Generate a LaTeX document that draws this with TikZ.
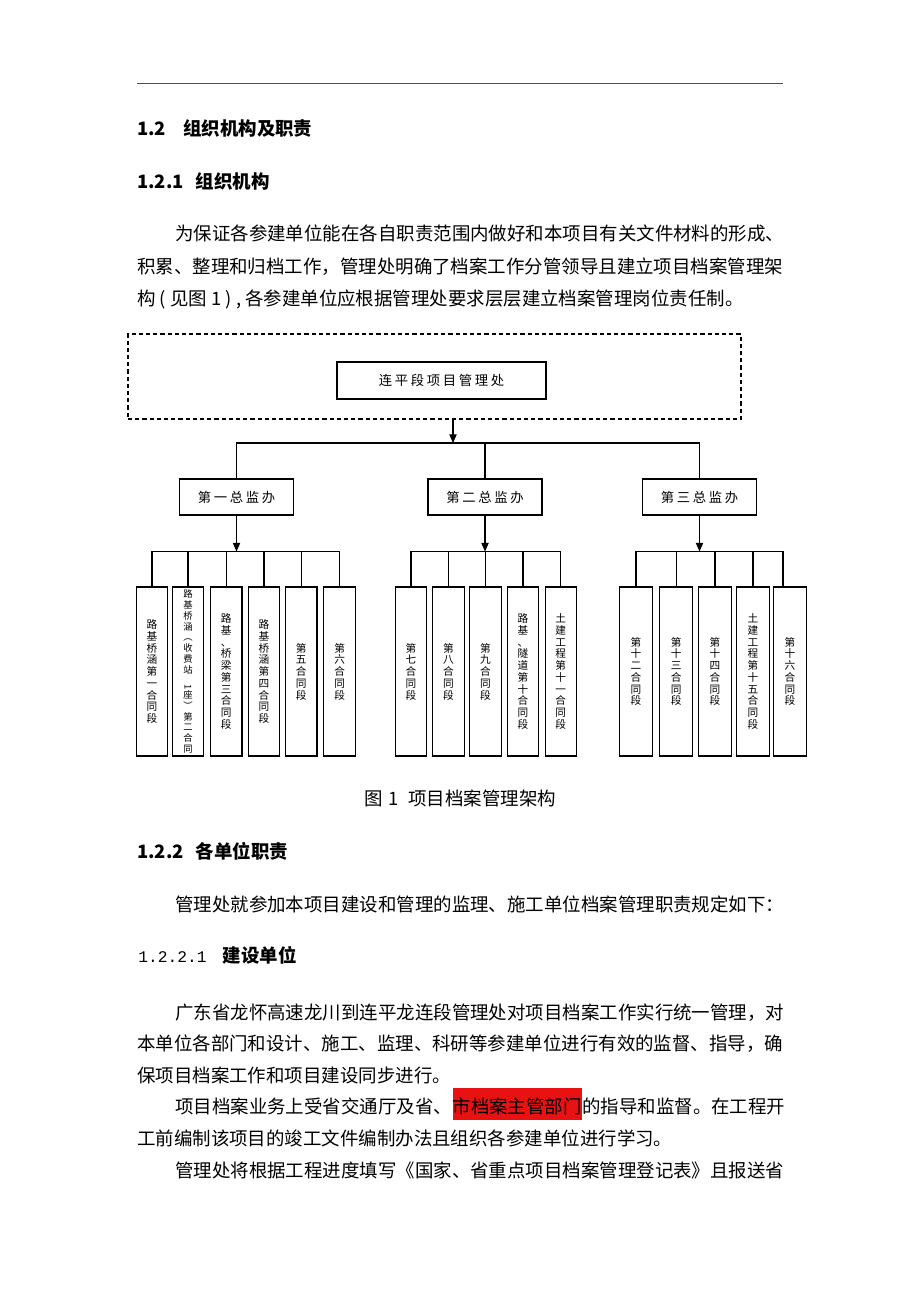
\documentclass[tikz,border=0pt]{standalone}
\usepackage{fontspec}
\usepackage{graphicx}
\newfontfamily\cjk{Noto Sans CJK SC}
\newfontfamily\boxfont[LetterSpace=20]{Noto Sans CJK SC}
\newfontfamily\numfont{Liberation Mono}
\usetikzlibrary{positioning, fit, arrows.meta}

\begin{document}
\begin{tikzpicture}[x=0.75pt, y=-0.75pt,
  txt/.style={font=\cjk\fontsize{13.84pt}{16pt}\selectfont, inner sep=0pt, text height=12.2pt, text depth=1.7pt, anchor=west},
  head/.style={txt, font=\cjk\bfseries\fontsize{13.84pt}{16pt}\selectfont},
  hl/.style={txt, fill={rgb,255:red,232;green,18;blue,18}, text height=18.75pt, text depth=5.25pt},
  frame/.style={draw, dash pattern=on 3.2pt off 2.2pt, line width=0.8pt, inner sep=0pt},
  mgmt/.style={draw, line width=0.8pt, inner sep=0pt, minimum width=85.5pt, minimum height=27pt, font=\boxfont\fontsize{10pt}{12pt}\selectfont},
  leaf/.style={draw, line width=0.8pt, inner sep=0pt, minimum width=23.5pt, minimum height=126.75pt, align=center, font=\cjk\fontsize{8pt}{8.8pt}\selectfont},
  wire/.style={line width=0.8pt},
  arr/.style={line width=0.8pt, -{Triangle[length=6.5pt, width=5.5pt]}}]

\fill[white] (0,0) rectangle (920,1302);
\useasboundingbox (0,0) rectangle (920,1302);

% page text above the chart
\draw[line width=1.1pt, black!70] (137,83.5) -- (783,83.5);
\node[head] (h1) at (137,129) {1.2\hspace{12.75pt}组织机构及职责};
\node[head] (h2) at (137,181) {1.2.1\hspace{9pt}组织机构};
\node[txt] (p1a) at (175,233) {为保证各参建单位能在各自职责范围内做好和本项目有关文件材料的形成、};
\node[txt] (p1b) at (137,266) {积累、整理和归档工作，管理处明确了档案工作分管领导且建立项目档案管理架};
\node[txt] (p1c) at (137,298) {构 ( 见图 1 ) , 各参建单位应根据管理处要求层层建立档案管理岗位责任制。};

% chart
\node[frame, fit={(128,334) (741,419)}] (frame) {};
\node[mgmt, minimum width=156.75pt, minimum height=27.75pt] (office) at (441.5,380.5) {连平段项目管理处};
\coordinate (hub) at (453,443);

\node[mgmt] (g1) at (236.5,497) {第一总监办};
\node[mgmt] (g2) at (485,497) {第二总监办};
\node[mgmt] (g3) at (699.5,497) {第三总监办};

\node[leaf] (l1) at (152,671.5) {路\\基\\桥\\涵\\第\\一\\合\\同\\段};
\node[leaf, font=\cjk\fontsize{7pt}{8.1pt}\selectfont] (l2) at (188,671.5) {路\\基\\桥\\涵\\︵\\收\\费\\站\\\rotatebox{-90}{1}\\座\\︶\\第\\二\\合\\同};
\node[leaf] (l3) at (226.3,671.5) {路\\基\\、\\桥\\梁\\第\\三\\合\\同\\段};
\node[leaf] (l4) at (264,671.5) {路\\基\\桥\\涵\\第\\四\\合\\同\\段};
\node[leaf] (l5) at (301.3,671.5) {第\\五\\合\\同\\段};
\node[leaf] (l6) at (339.6,671.5) {第\\六\\合\\同\\段};

\node[leaf] (l7) at (411,671.5) {第\\七\\合\\同\\段};
\node[leaf] (l8) at (448.5,671.5) {第\\八\\合\\同\\段};
\node[leaf] (l9) at (485.5,671.5) {第\\九\\合\\同\\段};
\node[leaf] (l10) at (523,671.5) {路\\基\\、\\隧\\道\\第\\十\\合\\同\\段};
\node[leaf] (l11) at (560.7,671.5) {土\\建\\工\\程\\第\\十\\一\\合\\同\\段};

\node[leaf, minimum width=24.75pt] (l12) at (636,671.5) {第\\十\\二\\合\\同\\段};
\node[leaf, minimum width=24.75pt] (l13) at (676.3,671.5) {第\\十\\三\\合\\同\\段};
\node[leaf, minimum width=24.75pt] (l14) at (715,671.5) {第\\十\\四\\合\\同\\段};
\node[leaf, minimum width=24.75pt] (l15) at (753,671.5) {土\\建\\工\\程\\第\\十\\五\\合\\同\\段};
\node[leaf, minimum width=24.75pt] (l16) at (790,671.5) {第\\十\\六\\合\\同\\段};

\coordinate (bus1) at (236.5,551.5);
\coordinate (bus2) at (485,551.5);
\coordinate (bus3) at (699.5,551.5);
\coordinate (l16in) at ([xshift=-5.25pt]l16.north);

\draw[arr] (frame.south -| hub) -- (hub);
\draw[wire] (g1.north) |- (g3.north |- hub) -- (g3.north);
\draw[wire] (g2.north) -- (g2.north |- hub);

\draw[arr] (g1.south) -- (bus1);
\draw[wire] (l1.north) |- (l6.north |- bus1) -- (l6.north);
\draw[wire] (l2.north) -- (l2.north |- bus1);
\draw[wire] (l3.north) -- (l3.north |- bus1);
\draw[wire] (l4.north) -- (l4.north |- bus1);
\draw[wire] (l5.north) -- (l5.north |- bus1);

\draw[arr] (g2.south) -- (bus2);
\draw[wire] (l7.north) |- (l11.north |- bus2) -- (l11.north);
\draw[wire] (l8.north) -- (l8.north |- bus2);
\draw[wire] (l9.north) -- (l9.north |- bus2);
\draw[wire] (l10.north) -- (l10.north |- bus2);

\draw[arr] (g3.south) -- (bus3);
\draw[wire] (l12.north) |- (l16in |- bus3) -- (l16in);
\draw[wire] (l13.north) -- (l13.north |- bus3);
\draw[wire] (l14.north) -- (l14.north |- bus3);
\draw[wire] (l15.north) -- (l15.north |- bus3);

% page text below the chart
\node[txt] (cap) at (364,798) {图\hspace{4.5pt}1\hspace{7pt}项目档案管理架构};
\node[head] (h3) at (137,851) {1.2.2\hspace{9pt}各单位职责};
\node[txt] (p2) at (175,904) {管理处就参加本项目建设和管理的监理、施工单位档案管理职责规定如下：};
\node[txt, font=\numfont\fontsize{12.2pt}{14pt}\selectfont] (h4n) at (138,955) {1.2.2.1};
\node[head] (h4) at (222.6,955) {建设单位};

\node[txt] (p3a) at (175,1012) {广东省龙怀高速龙川到连平龙连段管理处对项目档案工作实行统一管理，对};
\node[txt] (p3b) at (137,1043.5) {本单位各部门和设计、施工、监理、科研等参建单位进行有效的监督、指导，确};
\node[txt] (p3c) at (137,1075) {保项目档案工作和项目建设同步进行。};
\node[txt] (p3d1) at (175,1106) {项目档案业务上受省交通厅及省、};
\node[hl, anchor=base west] (p3d2) at (p3d1.base east) {市档案主管部门};
\node[txt, anchor=base west] (p3d3) at (p3d2.base east) {的指导和监督。在工程开};
\node[txt] (p3e) at (137,1138) {工前编制该项目的竣工文件编制办法且组织各参建单位进行学习。};
\node[txt] (p3f) at (175,1170) {管理处将根据工程进度填写《国家、省重点项目档案管理登记表》且报送省};

\end{tikzpicture}
\end{document}
